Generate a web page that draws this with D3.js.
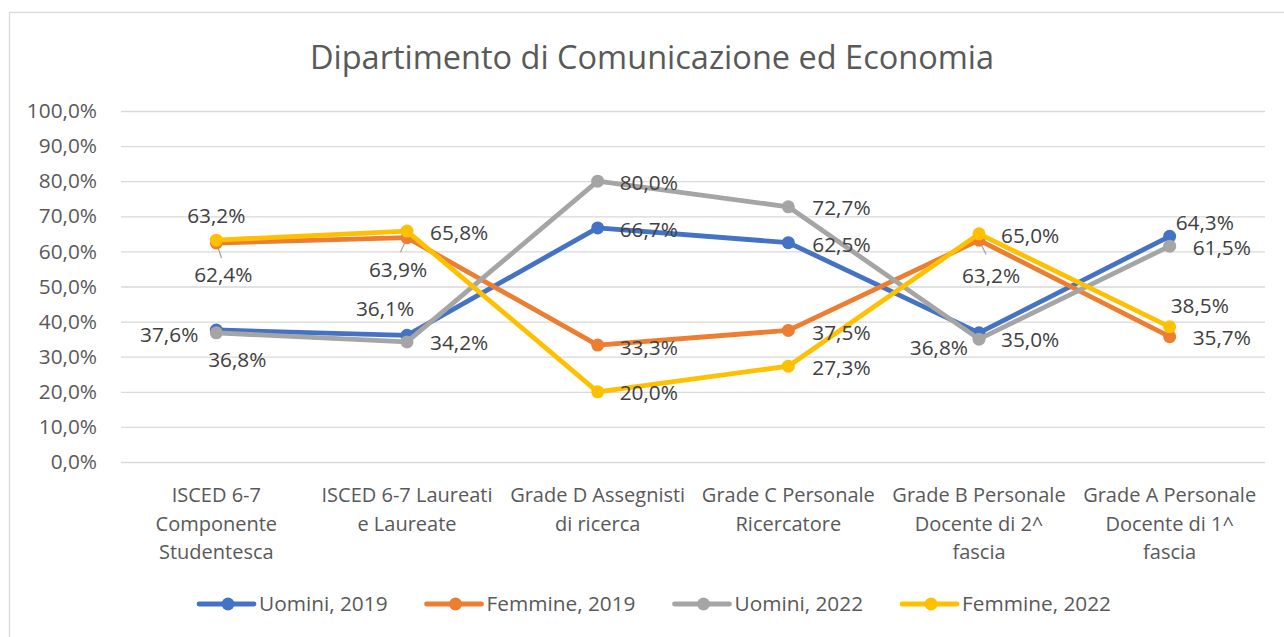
<!DOCTYPE html>
<html>
<head>
<meta charset="utf-8">
<script src="https://cdn.jsdelivr.net/npm/d3@7"></script>
<style>
    html, body { margin: 0; padding: 0; background: #fff; }
    svg { display: block; font-family: "Open Sans", sans-serif; }
</style>
</head>
<body>
<div id="chart"></div>
<script>
// categorie (asse x)
var categories = [
    "ISCED 6-7\nComponente\nStudentesca",
    "ISCED 6-7 Laureati\ne Laureate",
    "Grade D Assegnisti\ndi ricerca",
    "Grade C Personale\nRicercatore",
    "Grade B Personale\nDocente di 2^\nfascia",
    "Grade A Personale\nDocente di 1^\nfascia"
];

var seriesNames = ["Uomini, 2019", "Femmine, 2019", "Uomini, 2022", "Femmine, 2022"];

// valori in %
var uomini2019  = [37.6, 36.1, 66.7, 62.5, 36.8, 64.3];
var femmine2019 = [62.4, 63.9, 33.3, 37.5, 63.2, 35.7];
var uomini2022  = [36.8, 34.2, 80.0, 72.7, 35.0, 61.5];
var femmine2022 = [63.2, 65.8, 20.0, 27.3, 65.0, 38.5];

var yTicks = [0, 10, 20, 30, 40, 50, 60, 70, 80, 90, 100];

var colors = ["#4472C4", "#ED7D31", "#A5A5A5", "#FFC000"];

// posizione etichette dati (anchor, dx, dy rispetto al punto) - come in excel
var labelPos = [
    [["end", -18, 5], ["middle", -22, -27], ["start", 22, 2], ["start", 24, 2], ["end", -11, 15], ["start", 6, -14]],
    [["middle", 7, 32], ["middle", -9, 32], ["start", 22, 3], ["start", 24, 2], ["middle", 12, 36], ["start", 23, 1]],
    [["middle", 21, 27], ["start", 23, 1], ["start", 22, 2], ["start", 24, 1], ["start", 22, 1], ["start", 23, 2]],
    [["middle", 0, -24], ["start", 23, 2], ["start", 22, 1], ["start", 24, 2], ["start", 22, 2], ["start", 1, -21]]
];
// linee guida (serie, categoria)
var leaders = [[1, 0], [1, 1], [1, 4]];

var W = 1284, H = 637;
var margin = {left: 121, right: 19, top: 111, bottom: 175};

var svg = d3.select("#chart").append("svg")
    .attr("width", W)
    .attr("height", H);

// bordo del grafico
svg.append("rect")
    .attr("x", 9.5).attr("y", 12.5)
    .attr("width", 1290).attr("height", 640)
    .attr("fill", "#fff")
    .attr("stroke", "#d9d9d9")
    .attr("stroke-width", 1.3);

var x = d3.scaleBand()
    .domain(d3.range(categories.length))
    .range([margin.left, W - margin.right]);

var y = d3.scaleLinear()
    .domain([0, 100])
    .range([H - margin.bottom, margin.top]);

var itLocale = d3.formatLocale({decimal: ",", thousands: ".", grouping: [3], currency: ["", "€"]});
var fmt = function (v) { return itLocale.format(".1f")(v) + "%"; };

// titolo
svg.append("text")
    .attr("x", 652).attr("y", 58)
    .attr("dy", "0.35em")
    .attr("text-anchor", "middle")
    .attr("font-size", "32.5px")
    .attr("fill", "#595959")
    .text("Dipartimento di Comunicazione ed Economia");

// griglia + etichette asse y
var yAxis = d3.axisLeft(y)
    .tickValues(yTicks)
    .tickSize(-(W - margin.right - margin.left))
    .tickPadding(24)
    .tickFormat(fmt);

var gy = svg.append("g")
    .attr("transform", "translate(" + margin.left + ",0)")
    .call(yAxis);
gy.select(".domain").remove();
gy.selectAll(".tick line")
    .attr("stroke", "#d9d9d9")
    .attr("stroke-width", 1.3);
gy.selectAll(".tick text")
    .attr("fill", "#595959")
    .attr("font-size", "20.8px")
    .attr("font-family", "Open Sans, sans-serif");

// etichette categorie
var gx = svg.append("g");
categories.forEach(function (c, i) {
    var lines = c.split("\n");
    var t = gx.append("text")
        .attr("text-anchor", "middle")
        .attr("font-size", "20px")
        .attr("fill", "#595959");
    lines.forEach(function (l, k) {
        t.append("tspan")
            .attr("x", x(i) + x.bandwidth() / 2)
            .attr("y", 495 + k * 28.5)
            .attr("dy", "0.35em")
            .text(l);
    });
});

var allSeries = [uomini2019, femmine2019, uomini2022, femmine2022];

var line = d3.line()
    .x(function (d, i) { return x(i) + x.bandwidth() / 2; })
    .y(function (d) { return y(d); });

// linee guida
leaders.forEach(function (l) {
    var s = l[0], i = l[1];
    var px = x(i) + x.bandwidth() / 2, py = y(allSeries[s][i]);
    var p = labelPos[s][i];
    var tx = px + p[1], ty = py + p[2] - 12;
    var dx = tx - px, dy = ty - py, len = Math.sqrt(dx * dx + dy * dy);
    svg.append("line")
        .attr("x1", px).attr("y1", py)
        .attr("x2", px + dx * Math.min(1, 16 / len)).attr("y2", py + dy * Math.min(1, 16 / len))
        .attr("stroke", "#a6a6a6")
        .attr("stroke-width", 1.3);
});

allSeries.forEach(function (vals, s) {
    var g = svg.append("g");
    g.append("path")
        .datum(vals)
        .attr("d", line)
        .attr("fill", "none")
        .attr("stroke", colors[s])
        .attr("stroke-width", 4.8)
        .attr("stroke-linejoin", "round")
        .attr("stroke-linecap", "round");
    g.selectAll("circle")
        .data(vals)
        .enter().append("circle")
        .attr("cx", function (d, i) { return x(i) + x.bandwidth() / 2; })
        .attr("cy", function (d) { return y(d); })
        .attr("r", 6.5)
        .attr("fill", colors[s]);
});

// etichette dati
allSeries.forEach(function (vals, s) {
    svg.append("g").selectAll("text")
        .data(vals)
        .enter().append("text")
        .attr("x", function (d, i) { return x(i) + x.bandwidth() / 2 + labelPos[s][i][1]; })
        .attr("y", function (d, i) { return y(d) + labelPos[s][i][2]; })
        .attr("dy", "0.35em")
        .attr("text-anchor", function (d, i) { return labelPos[s][i][0]; })
        .attr("font-size", "20.8px")
        .attr("fill", "#404040")
        .text(fmt);
});

// legenda
var legend = svg.append("g");
var lx = 0;
seriesNames.forEach(function (n, s) {
    var item = legend.append("g").attr("transform", "translate(" + lx + ",0)");
    item.append("line")
        .attr("x1", 0).attr("x2", 55)
        .attr("y1", 0).attr("y2", 0)
        .attr("stroke", colors[s])
        .attr("stroke-width", 4.8)
        .attr("stroke-linecap", "round");
    item.append("circle")
        .attr("cx", 29).attr("cy", 0)
        .attr("r", 6.5)
        .attr("fill", colors[s]);
    var t = item.append("text")
        .attr("x", 60)
        .attr("dy", "0.35em")
        .attr("font-size", "20.8px")
        .attr("fill", "#595959")
        .text(n);
    lx += 60 + t.node().getComputedTextLength() + (s < seriesNames.length - 1 ? 39 : 0);
});
var legW = lx;
legend.attr("transform", "translate(" + (655 - legW / 2) + ",604)");
</script>
</body>
</html>
